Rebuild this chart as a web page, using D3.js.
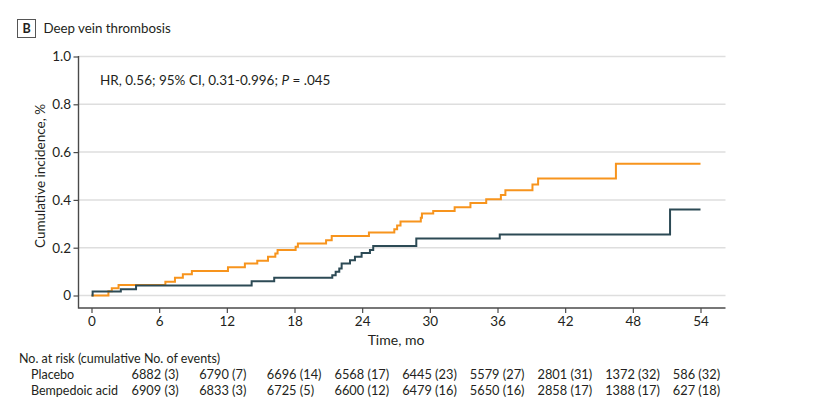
<!DOCTYPE html>
<html>
<head>
<meta charset="utf-8">
<script src="https://cdn.jsdelivr.net/npm/d3@7"></script>
<style>
  html, body { margin: 0; padding: 0; background: #fff; }
  svg { display: block; font-family: Lato, "Open Sans", sans-serif; }
</style>
</head>
<body>
<svg id="chart" width="816" height="417"></svg>
<script>
// ---- data ----
const placeboTimes  = [0, 1.5, 1.8, 2.4, 6.55, 7.4, 8.1, 8.9, 12.1, 13.6, 14.7, 15.65, 16.3, 16.5, 18.1, 18.3, 20.8, 21.3, 24.6, 26.85, 27.1, 27.4, 29.2, 29.3, 30.3, 32.2, 33.6, 35.0, 36.3, 36.7, 39.1, 39.6, 46.5, 54];
const placeboValues = [0, 0.018, 0.03, 0.044, 0.058, 0.074, 0.089, 0.103, 0.118, 0.134, 0.145, 0.162, 0.176, 0.19, 0.204, 0.218, 0.231, 0.249, 0.264, 0.277, 0.293, 0.31, 0.325, 0.343, 0.354, 0.369, 0.387, 0.403, 0.421, 0.44, 0.464, 0.49, 0.551, 0.551];
const bempedoicTimes  = [0, 0.1, 2.6, 3.95, 14.2, 16.2, 21.35, 21.65, 21.97, 22.18, 22.92, 23.36, 23.95, 24.69, 24.98, 28.8, 36.2, 51.3, 54];
const bempedoicValues = [0, 0.017, 0.026, 0.042, 0.06, 0.074, 0.085, 0.099, 0.113, 0.134, 0.148, 0.162, 0.178, 0.19, 0.207, 0.238, 0.255, 0.36, 0.36];

const xTicks = [0, 6, 12, 18, 24, 30, 36, 42, 48, 54];
const yTicks = [0, 0.2, 0.4, 0.6, 0.8, 1.0];

const riskGroups = ["Placebo", "Bempedoic acid"];
const placeboRisk   = ["6882 (3)", "6790 (7)", "6696 (14)", "6568 (17)", "6445 (23)", "5579 (27)", "2801 (31)", "1372 (32)", "586 (32)"];
const bempedoicRisk = ["6909 (3)", "6833 (3)", "6725 (5)", "6600 (12)", "6479 (16)", "5650 (16)", "2858 (17)", "1388 (17)", "627 (18)"];
const riskTimes = [0, 6, 12, 18, 24, 30, 36, 42, 48];

const panelLetter = "B";
const titleText = "Deep vein thrombosis";
const yLabel = "Cumulative incidence, %";
const xLabel = "Time, mo";
const riskHeader = "No. at risk (cumulative No. of events)";

// ---- layout ----
const svg = d3.select("#chart");
const textColor = "#231f20";
const axisColor = "#4a4a4a";
const cPlacebo = "#f7941d";
const cBemp = "#2c4a55";

const x = d3.scaleLinear().domain([0, 54]).range([91.5, 700.5]);
const y = d3.scaleLinear().domain([0, 1]).range([295.5, 56.5]);
const axisLeftX = 78.5, axisBottomY = 308, plotRight = 725.5;

// title
svg.append("rect").attr("x", 17.5).attr("y", 19.5).attr("width", 18).attr("height", 18)
  .attr("fill", "none").attr("stroke", "#555").attr("stroke-width", 1);
svg.append("text").attr("x", 26.5).attr("y", 33).attr("text-anchor", "middle")
  .attr("font-size", 12.5).attr("font-weight", "bold").attr("fill", textColor).text(panelLetter);
svg.append("text").attr("x", 43.5).attr("y", 32.5).attr("font-size", 13.3)
  .attr("fill", textColor).text(titleText);

// gridlines
svg.append("g").selectAll("line").data(yTicks).join("line")
  .attr("x1", axisLeftX).attr("x2", plotRight)
  .attr("y1", d => y(d)).attr("y2", d => y(d))
  .attr("stroke", "#dedede").attr("stroke-width", 1.5);

// axes
const yAxis = d3.axisLeft(y).tickValues(yTicks)
  .tickFormat(d => d === 0 ? "0" : d3.format(".1f")(d)).tickSize(5).tickPadding(2.5);
const gy = svg.append("g").attr("transform", `translate(${axisLeftX},0)`).call(yAxis);
gy.select(".domain").remove();
gy.selectAll("line").attr("stroke", axisColor).attr("stroke-width", 1.2);
gy.selectAll("text").attr("font-size", 13.5).attr("fill", textColor).attr("font-family", "Lato");

const xAxis = d3.axisBottom(x).tickValues(xTicks).tickSize(5).tickPadding(3.5);
const gx = svg.append("g").attr("transform", `translate(0,${axisBottomY})`).call(xAxis);
gx.select(".domain").remove();
gx.selectAll("line").attr("stroke", axisColor).attr("stroke-width", 1.2);
gx.selectAll("text").attr("font-size", 13.5).attr("fill", textColor).attr("font-family", "Lato");

svg.append("line").attr("x1", axisLeftX).attr("x2", axisLeftX).attr("y1", 56).attr("y2", axisBottomY + 0.6)
  .attr("stroke", axisColor).attr("stroke-width", 1.4);
svg.append("line").attr("x1", axisLeftX).attr("x2", plotRight).attr("y1", axisBottomY).attr("y2", axisBottomY)
  .attr("stroke", axisColor).attr("stroke-width", 1.4);

// axis labels
svg.append("text").attr("transform", `translate(45,176) rotate(-90)`)
  .attr("text-anchor", "middle").attr("font-size", 13.5).attr("fill", textColor).text(yLabel);
svg.append("text").attr("x", 396).attr("y", 345).attr("text-anchor", "middle")
  .attr("font-size", 14).attr("fill", textColor).text(xLabel);

// HR annotation
const hr = svg.append("text").attr("x", 100).attr("y", 85).attr("font-size", 13.5).attr("fill", textColor);
hr.append("tspan").text("HR, 0.56; 95% CI, 0.31-0.996; ");
hr.append("tspan").attr("font-style", "italic").text("P");
hr.append("tspan").text(" = .045");

// curves
const line = d3.line().x(d => x(d[0])).y(d => y(d[1])).curve(d3.curveStepAfter);
const series = [
  { t: placeboTimes, v: placeboValues, c: cPlacebo },
  { t: bempedoicTimes, v: bempedoicValues, c: cBemp }
];
series.forEach(s => {
  svg.append("path").datum(d3.zip(s.t, s.v)).attr("d", line)
    .attr("fill", "none").attr("stroke", s.c).attr("stroke-width", 2);
});

// risk table
svg.append("text").attr("x", 19).attr("y", 363).attr("font-size", 12.5).attr("fill", textColor).text(riskHeader);
const riskRows = [placeboRisk, bempedoicRisk];
const rowY = [379, 395];
riskGroups.forEach((g, i) => {
  svg.append("text").attr("x", 31).attr("y", rowY[i]).attr("font-size", 12.5).attr("fill", textColor).text(g);
  svg.append("g").selectAll("text").data(riskRows[i]).join("text")
    .attr("x", (d, j) => x(riskTimes[j]) + 40)
    .attr("y", rowY[i]).attr("font-size", 12.8).attr("fill", textColor).text(d => d);
});
</script>
</body>
</html>
